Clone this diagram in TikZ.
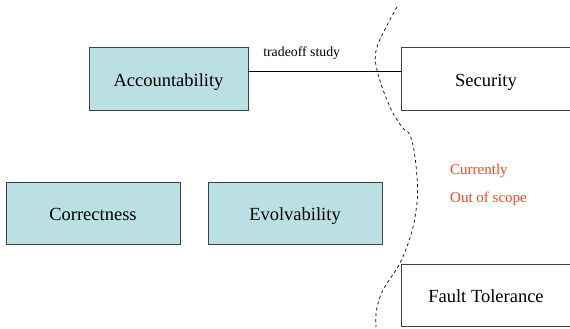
\documentclass[tikz,border=0pt]{standalone}
\usepackage{fontspec}
\setmainfont{Liberation Serif}
\usetikzlibrary{positioning}
\usetikzlibrary{calc}

\definecolor{goalfill}{RGB}{187,224,227}
\definecolor{scopered}{RGB}{255,64,32}

\tikzset{
  goal/.style={draw=black!75, line width=0.9pt, fill=goalfill, minimum height=63pt,
    inner sep=0pt, text height=18pt, text depth=3pt, font=\rmfamily\fontsize{18.5}{20}\selectfont},
  outgoal/.style={goal, fill=white},
  note/.style={font=\rmfamily\fontsize{14}{16}\selectfont, inner sep=0pt},
}

\begin{document}
\begin{tikzpicture}[x=1pt,y=-1pt]
		\useasboundingbox (0,0) rectangle (570,329);

		% Define the coordinates of the boxes
		\coordinate (acc) at (168.5,78.5);
		\coordinate (cor) at (93,213);
		\coordinate (evo) at (295,213);
		\coordinate (sec) at (486,78.5);
		\coordinate (ft) at (486,295);

		% Draw the boxes
		\node[goal, minimum width=159pt] (accbox) at (acc) {Accountability};
		\node[goal, minimum width=174pt, minimum height=62pt] (corbox) at (cor) {Correctness};
		\node[goal, minimum width=174pt, minimum height=62pt] (evobox) at (evo) {Evolvability};
		\node[outgoal, minimum width=170pt] (secbox) at (sec) {Security};
		\node[outgoal, minimum width=170pt, minimum height=62pt] (ftbox) at (ft) {Fault Tolerance};

		% Draw the line
		\draw[line width=0.8pt] ([yshift=7.5pt]accbox.east) -- ([yshift=7.5pt]secbox.west)
		  node[pos=0.35, above=11pt, note, font=\rmfamily\fontsize{13.8}{15}\selectfont] (study) {tradeoff study};

		% Draw the scope border
		\draw[dashed, line width=0.7pt] plot[smooth, tension=0.6] coordinates {
		  (397,7) (377,47) (377.5,72) (390,107) (402,127) (410,135) (415,157)
		  (417.5,187) (416.5,207) (411.5,233) (400,263) (383,290) (376.5,310) (376,327)};

		\node[note, text=scopered, anchor=west, font=\rmfamily\fontsize{15}{17}\selectfont] (cur) at (450,171) {Currently};
		\node[note, text=scopered, anchor=west, font=\rmfamily\fontsize{15}{17}\selectfont] (oos) at (450,199) {Out of scope};
     \end{tikzpicture}
\end{document}
